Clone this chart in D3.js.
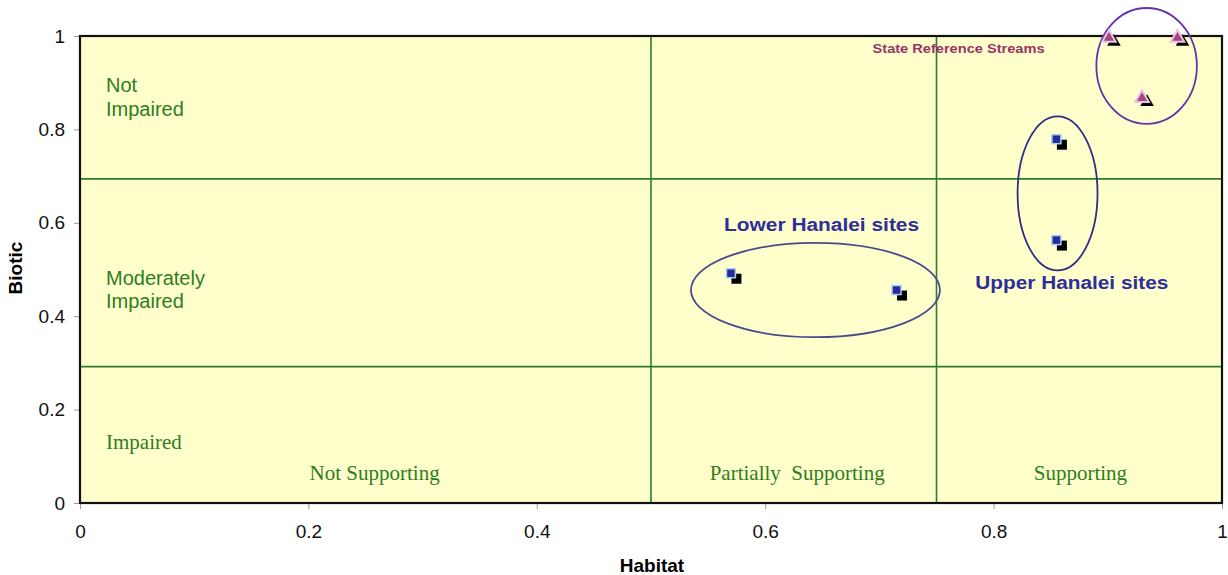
<!DOCTYPE html>
<html lang="en">
<head>
<meta charset="UTF-8">
<title>Biotic vs Habitat</title>
<script src="https://d3js.org/d3.v7.min.js"></script>
<style>
  body, html { margin: 0; padding: 0; background: #fff; }
  svg { display: block; }
  .tick text { font-family: Arial, "Liberation Sans", sans-serif; font-size: 19px; fill: #111; }
</style>
</head>
<body>
<svg width="1228" height="575"></svg>
<script>
// data
const xTicks = [0, 0.2, 0.4, 0.6, 0.8, 1];
const yTicks = [0, 0.2, 0.4, 0.6, 0.8, 1];
const habitatBreaks = [0.5, 0.75];
const bioticBreaks = [0.292, 0.694];

const lowerSites = [[0.570, 0.492], [0.715, 0.456]];
const upperSites = [[0.855, 0.779], [0.855, 0.563]];
const refSites = [[0.901, 0.996], [0.961, 0.996], [0.930, 0.867]];

// ellipses: cx, cy, rx, ry in data units
const groupRings = [
  {name: "lower", cx: 0.644, cy: 0.456, rx: 0.109, ry: 0.101, color: "#4b4b8c"},
  {name: "upper", cx: 0.856, cy: 0.663, rx: 0.035, ry: 0.165, color: "#2e2e86"},
  {name: "ref",   cx: 0.934, cy: 0.936, rx: 0.044, ry: 0.124, color: "#6633aa"}
];

const bioticLabels = [
  {lines: ["Not", "Impaired"], y: 0.880, serif: false},
  {lines: ["Moderately", "Impaired"], y: 0.467, serif: false},
  {lines: ["Impaired"], y: 0.116, serif: true}
];
const habitatLabels = [
  {text: "Not Supporting", x: 0.258},
  {text: "Partially  Supporting", x: 0.628},
  {text: "Supporting", x: 0.876}
];

const svg = d3.select("svg");
const margin = {top: 36, right: 6, bottom: 72, left: 80};
const width = 1228 - margin.left - margin.right;
const height = 575 - margin.top - margin.bottom;

const g = svg.append("g").attr("transform", `translate(${margin.left},${margin.top})`);

const x = d3.scaleLinear().domain([0, 1]).range([0, width]);
const y = d3.scaleLinear().domain([0, 1]).range([height, 0]);

// background
g.append("rect")
  .attr("width", width).attr("height", height)
  .attr("fill", "#ffffcc");

// zone lines
g.selectAll(".vline").data(habitatBreaks).enter().append("line")
  .attr("x1", d => x(d)).attr("x2", d => x(d))
  .attr("y1", 0).attr("y2", height)
  .attr("stroke", "#2f7a2f").attr("stroke-width", 1.6);
g.selectAll(".hline").data(bioticBreaks).enter().append("line")
  .attr("x1", 0).attr("x2", width)
  .attr("y1", d => y(d)).attr("y2", d => y(d))
  .attr("stroke", "#2f7a2f").attr("stroke-width", 1.6);

// axes
const xAxis = g.append("g")
  .attr("transform", `translate(0,${height})`)
  .call(d3.axisBottom(x).tickValues(xTicks).tickFormat(d3.format("")).tickSize(6).tickPadding(16));
const yAxis = g.append("g")
  .call(d3.axisLeft(y).tickValues(yTicks).tickFormat(d3.format("")).tickSize(6).tickPadding(9));
[xAxis, yAxis].forEach(a => {
  a.select(".domain").remove();
  a.selectAll(".tick line").attr("stroke", "#999");
});

// frame
g.append("rect")
  .attr("width", width).attr("height", height)
  .attr("fill", "none").attr("stroke", "#111").attr("stroke-width", 2.2);

// zone labels
bioticLabels.forEach(l => {
  const t = g.append("text")
    .attr("x", 26)
    .attr("y", y(l.y))
    .attr("fill", "#2e7d22")
    .style("font-family", l.serif ? "'Liberation Serif', 'Times New Roman', serif" : "Arial, 'Liberation Sans', sans-serif")
    .style("font-size", l.serif ? "21px" : "20px");
  l.lines.forEach((s, i) => {
    t.append("tspan").attr("x", 26).attr("dy", i === 0 ? 0 : 23.5).text(s);
  });
});
g.selectAll(".hlabel").data(habitatLabels).enter().append("text")
  .attr("x", d => x(d.x))
  .attr("y", y(0.049))
  .attr("text-anchor", "middle")
  .attr("fill", "#2e7d22")
  .style("font-family", "'Liberation Serif', 'Times New Roman', serif")
  .style("font-size", "21px")
  .style("white-space", "pre")
  .attr("xml:space", "preserve")
  .text(d => d.text);

// ellipses
g.selectAll(".ring").data(groupRings).enter().append("ellipse")
  .attr("cx", d => x(d.cx)).attr("cy", d => y(d.cy))
  .attr("rx", d => x(d.rx) - x(0)).attr("ry", d => y(0) - y(d.ry))
  .attr("fill", "none").attr("stroke", d => d.color).attr("stroke-width", 1.8);

// square markers with shadow
const squares = lowerSites.concat(upperSites);
const sq = 9;
g.selectAll(".sqShadow").data(squares).enter().append("rect")
  .attr("x", d => x(d[0]) - sq / 2 + 5).attr("y", d => y(d[1]) - sq / 2 + 5)
  .attr("width", sq + 1).attr("height", sq + 1)
  .attr("fill", "#000");
g.selectAll(".sq").data(squares).enter().append("rect")
  .attr("x", d => x(d[0]) - sq / 2).attr("y", d => y(d[1]) - sq / 2)
  .attr("width", sq).attr("height", sq)
  .attr("fill", "#2a2a9a").attr("stroke", "#a8d0f0").attr("stroke-width", 1.5);

// triangle markers with shadow
const tri = d3.symbol().type(d3.symbolTriangle).size(80);
g.selectAll(".triShadow").data(refSites).enter().append("path")
  .attr("d", tri)
  .attr("transform", d => `translate(${x(d[0]) + 5},${y(d[1]) + 4})`)
  .attr("fill", "#000");
g.selectAll(".tri").data(refSites).enter().append("path")
  .attr("d", tri)
  .attr("transform", d => `translate(${x(d[0])},${y(d[1])})`)
  .attr("fill", "#a8457e").attr("stroke", "#e6c4e2").attr("stroke-width", 2);

// group labels
const sans = "Arial, 'Liberation Sans', sans-serif";
g.append("text")
  .attr("x", x(0.564)).attr("y", y(0.582))
  .attr("fill", "#2e2e9a")
  .attr("textLength", 195).attr("lengthAdjust", "spacingAndGlyphs")
  .style("font-family", sans)
  .style("font-size", "18px").style("font-weight", "bold")
  .text("Lower Hanalei sites");
g.append("text")
  .attr("x", x(0.784)).attr("y", y(0.458))
  .attr("fill", "#2e2e9a")
  .attr("textLength", 193).attr("lengthAdjust", "spacingAndGlyphs")
  .style("font-family", sans)
  .style("font-size", "18px").style("font-weight", "bold")
  .text("Upper Hanalei sites");
g.append("text")
  .attr("x", x(0.694)).attr("y", y(0.964))
  .attr("fill", "#993366")
  .attr("textLength", 172).attr("lengthAdjust", "spacingAndGlyphs")
  .style("font-family", sans)
  .style("font-size", "12.5px").style("font-weight", "bold")
  .text("State Reference Streams");

// axis titles
svg.append("text")
  .attr("x", 652).attr("y", 572)
  .attr("text-anchor", "middle")
  .style("font-family", sans)
  .style("font-size", "19px").style("font-weight", "bold")
  .text("Habitat");
svg.append("text")
  .attr("transform", `translate(22,268) rotate(-90)`)
  .attr("text-anchor", "middle")
  .style("font-family", sans)
  .style("font-size", "19px").style("font-weight", "bold")
  .text("Biotic");
</script>
</body>
</html>
